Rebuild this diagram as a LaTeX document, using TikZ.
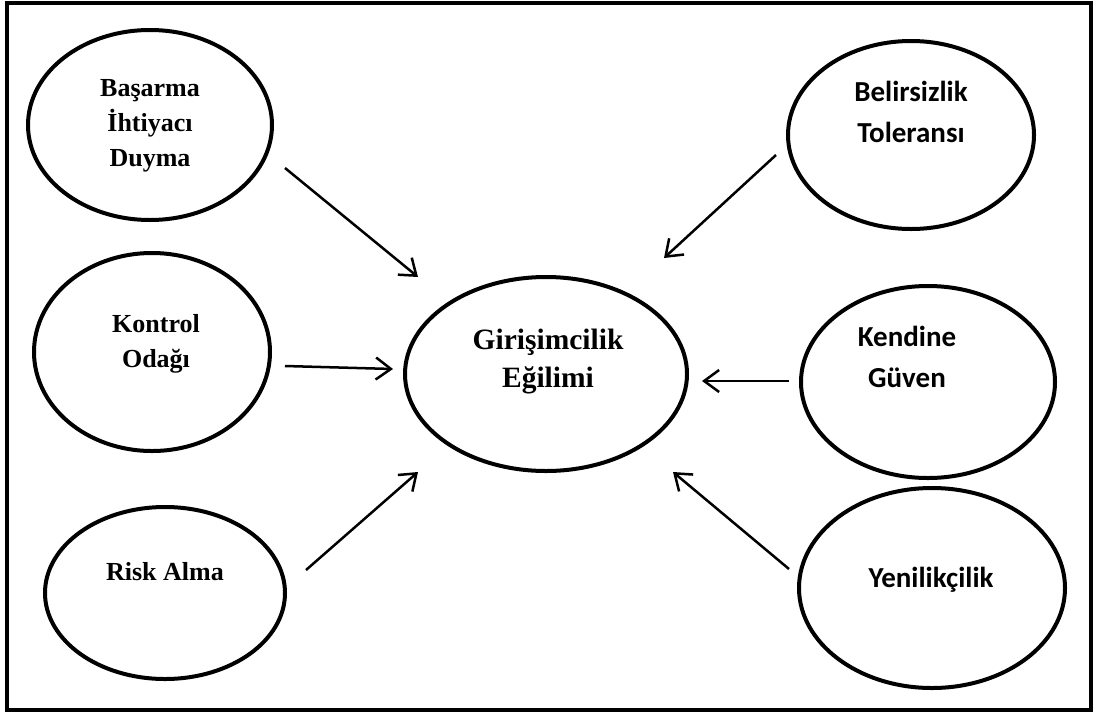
\documentclass[tikz,border=0pt]{standalone}
\usepackage{fontspec}
\usetikzlibrary{shapes.geometric,arrows.meta}
\newfontfamily\serifb{Liberation Serif}
\newfontfamily\sansb{Carlito}
\begin{document}
\begin{tikzpicture}[x=1pt,y=-1pt,
  oval/.style={draw,ellipse,line width=4pt,inner sep=0pt},
  ltext/.style={align=center,font=\serifb\bfseries\fontsize{26}{35}\selectfont},
  rtext/.style={align=center,font=\sansb\bfseries\fontsize{29}{41}\selectfont},
  ctext/.style={align=center,font=\serifb\bfseries\fontsize{29.5}{38}\selectfont},
  arr/.style={line width=2.5pt,-{Straight Barb[length=15pt,width=22pt,line width=2.5pt]}}]
\useasboundingbox (0,0) rectangle (1099,715);
\draw[line width=4.5pt] (7,3) rectangle (1091,710);
% ellipses
\node[oval,minimum width=244,minimum height=190] (e1) at (150,125) {};
\node[oval,minimum width=236,minimum height=198] (e2) at (152,352) {};
\node[oval,minimum width=240,minimum height=172] (e3) at (165,593) {};
\node[oval,minimum width=282,minimum height=194] (ec) at (546,374) {};
\node[oval,minimum width=246,minimum height=188] (e4) at (911,135) {};
\node[oval,minimum width=254,minimum height=192] (e5) at (928,382) {};
\node[oval,minimum width=266,minimum height=200] (e6) at (932,588) {};
% texts
\node[ltext] (t1) at (150,126) {Başarma\\İhtiyacı\\Duyma};
\node[ltext] (t2) at (156,344) {Kontrol\\Odağı};
\node[ltext] (t3) at (165,572) {Risk Alma};
\node[ctext] (tc) at (548,362) {Girişimcilik\\Eğilimi};
\node[rtext] (t4) at (911,112) {Belirsizlik\\Toleransı};
\node[rtext] (t5) at (907,357) {Kendine\\Güven};
\node[rtext] (t6) at (931,580) {Yenilikçilik};
% arrow end points
\coordinate (a1s) at (285,168); \coordinate (a1e) at (418,277);
\coordinate (a2s) at (285,366); \coordinate (a2e) at (393,369);
\coordinate (a3s) at (306,570); \coordinate (a3e) at (418,472);
\coordinate (a4s) at (776,155); \coordinate (a4e) at (664,258);
\coordinate (a5s) at (789,381); \coordinate (a5e) at (702,381);
\coordinate (a6s) at (789,569); \coordinate (a6e) at (673,472);
\draw[arr] (a1s) -- (a1e);
\draw[arr] (a2s) -- (a2e);
\draw[arr] (a3s) -- (a3e);
\draw[arr] (a4s) -- (a4e);
\draw[arr] (a5s) -- (a5e);
\draw[arr] (a6s) -- (a6e);
\end{tikzpicture}
\end{document}
